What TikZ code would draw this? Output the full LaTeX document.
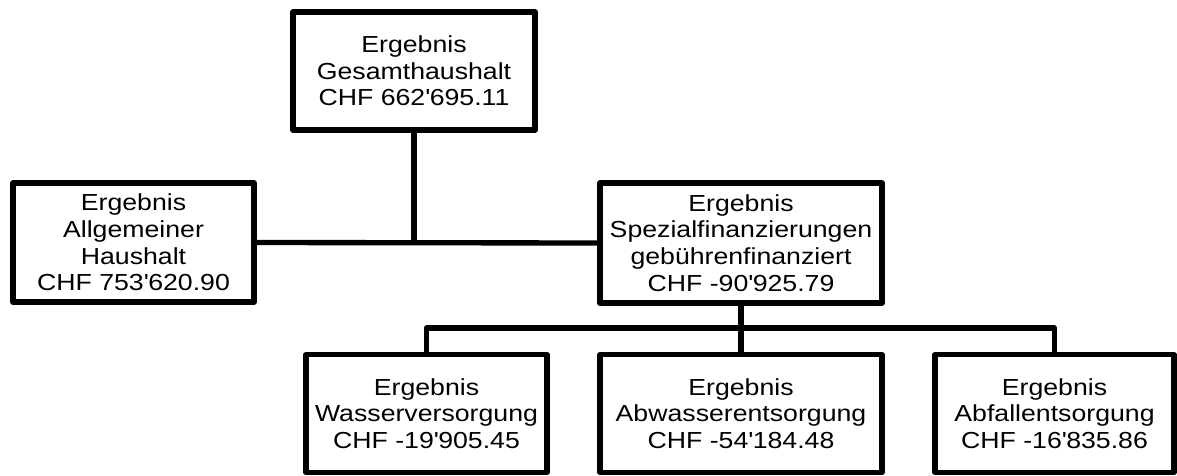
\documentclass[tikz,border=0pt]{standalone}
\usepackage{fontspec}
\setmainfont{Liberation Sans}[FakeStretch=1.15]
\newcommand{\ap}{\textquotesingle}
\tikzset{
  box/.style={draw=black, line width=4pt, line join=round, fill=white,
    inner sep=0pt, outer sep=0pt, align=center,
    font=\fontsize{17.4pt}{20pt}\selectfont},
  link/.style={draw=black, line width=4pt, line join=round}
}
\begin{document}
\begin{tikzpicture}[x=0.75pt,y=-0.75pt]
\useasboundingbox (0,0) rectangle (1177,475);
\node[box, minimum width=181.5pt, minimum height=88.5pt] (top) at (414,71)
  {Ergebnis\\Gesamthaushalt\\CHF 662\ap 695.11};
\node[box, minimum width=180.75pt, minimum height=89.25pt] (left) at (133.5,242.5)
  {Ergebnis\\Allgemeiner\\Haushalt\\CHF 753\ap 620.90};
\node[box, minimum width=211.5pt, minimum height=90pt] (mid) at (741,243)
  {Ergebnis\\Spezialfinanzierungen\\gebührenfinanziert\\CHF -90\ap 925.79};
\node[box, minimum width=180.75pt, minimum height=88.5pt] (b1) at (426.5,413.5)
  {Ergebnis\\Wasserversorgung\\CHF -19\ap 905.45};
\node[box, minimum width=211.5pt, minimum height=88.5pt] (b2) at (741,413.5)
  {Ergebnis\\Abwasserentsorgung\\CHF -54\ap 184.48};
\node[box, minimum width=179.25pt, minimum height=88.5pt] (b3) at (1054.5,413.5)
  {Ergebnis\\Abfallentsorgung\\CHF -16\ap 835.86};
\coordinate (bar) at (741,328);
\draw[link] (left.east) -- (mid.west);
\draw[link] (top.south) -- (top.south |- left.east);
\draw[link] (mid.south) -- (b2.north);
\draw[link] (b1.north) |- (bar) -| (b3.north);
\end{tikzpicture}
\end{document}
